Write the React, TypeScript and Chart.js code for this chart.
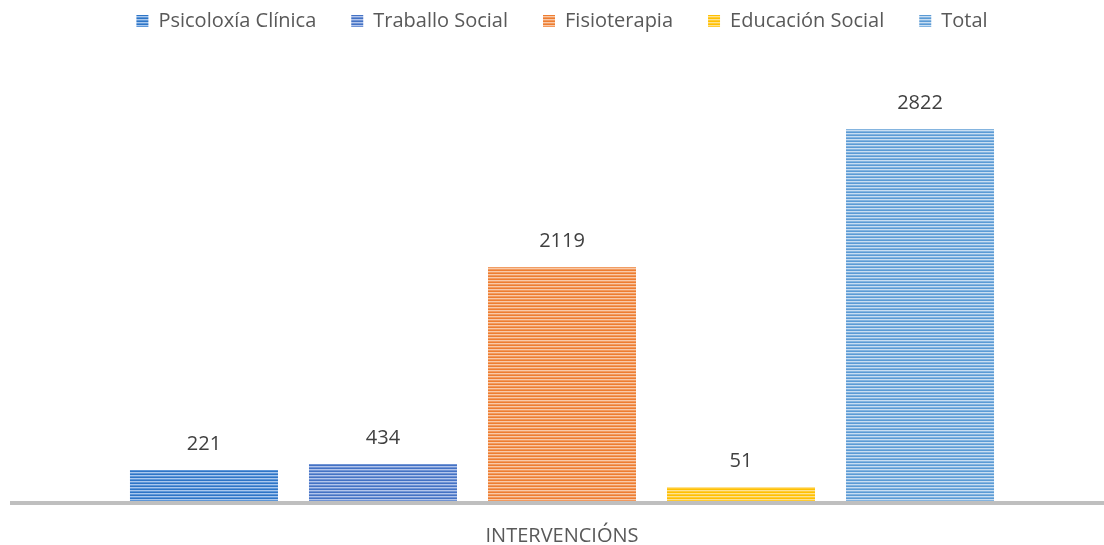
import React, { useEffect, useRef } from "react";
import { Chart, registerables } from "chart.js";

Chart.register(...registerables);

const categories = ["INTERVENCIÓNS"];
const seriesNames = ["Psicoloxía Clínica", "Traballo Social", "Fisioterapia", "Educación Social", "Total"];
// bar heights as drawn in the reference (chart units)
const barValues = [235, 281, 1775, 106, 2822];
// data labels as printed in the reference
const dataLabels = ["221", "434", "2119", "51", "2822"];
const darkColors = ["#2E75C6", "#4472C4", "#ED7D31", "#FFC000", "#5B9BD5"];
const midColors = ["#5E97D8", "#7194D4", "#F29A5E", "#FFCB33", "#84B4E0"];
const lightColors = ["#A9C8EE", "#B3C5EC", "#F9C9A8", "#FFE28F", "#C9DEF2"];

const FONT = "'Open Sans'";

function makePattern(dark: string, mid: string, light: string): CanvasPattern | string {
  const c = document.createElement("canvas");
  c.width = 4;
  c.height = 3;
  const g = c.getContext("2d");
  if (!g) return dark;
  g.fillStyle = dark;
  g.fillRect(0, 0, 4, 1);
  g.fillStyle = light;
  g.fillRect(0, 1, 4, 1);
  g.fillStyle = mid;
  g.fillRect(0, 2, 4, 1);
  const p = g.createPattern(c, "repeat");
  return p || dark;
}

const labelPlugin = {
  id: "barLabels",
  afterDatasetsDraw(chart: any) {
    const ctx = chart.ctx;
    ctx.save();
    ctx.font = `20px ${FONT}`;
    ctx.fillStyle = "#404040";
    ctx.textAlign = "center";
    ctx.textBaseline = "middle";
    chart.data.datasets.forEach((ds: any, i: number) => {
      const meta = chart.getDatasetMeta(i);
      meta.data.forEach((bar: any) => {
        ctx.fillText(dataLabels[i], bar.x, bar.y - 26);
      });
    });
    ctx.restore();
  },
};

const baselinePlugin = {
  id: "baseline",
  afterDatasetsDraw(chart: any) {
    const ctx = chart.ctx;
    const y = chart.scales.y.getPixelForValue(0);
    ctx.save();
    ctx.fillStyle = "#BFBFBF";
    ctx.fillRect(10, y, chart.width - 10, 4);
    ctx.restore();
  },
};

export default function App() {
  const ref = useRef<HTMLCanvasElement | null>(null);
  useEffect(() => {
    if (!ref.current) return;
    Chart.defaults.font.family = FONT;
    const chart = new Chart(ref.current, {
      type: "bar",
      data: {
        labels: categories,
        datasets: seriesNames.map((name, i) => ({
          label: name,
          data: [barValues[i]],
          backgroundColor: makePattern(darkColors[i], midColors[i], lightColors[i]) as any,
          borderWidth: 0,
          categoryPercentage: 0.8257,
          barPercentage: 0.8268,
        })),
      },
      options: {
        animation: false,
        responsive: true,
        maintainAspectRatio: false,
        layout: { padding: { left: 20, right: 0, top: -24, bottom: -26 } },
        plugins: {
          legend: {
            position: "top",
            labels: {
              boxWidth: 12,
              boxHeight: 12,
              padding: 35,
              color: "#595959",
              font: { size: 20, family: FONT },
            },
          },
          tooltip: { enabled: false },
        },
        scales: {
          x: {
            grid: { display: false, drawTicks: false },
            border: { display: false },
            ticks: { color: "#595959", font: { size: 20, family: FONT }, padding: 23 },
          },
          y: {
            display: false,
            min: 0,
            max: 3493,
          },
        },
      },
      plugins: [labelPlugin, baselinePlugin],
    });
    return () => chart.destroy();
  }, []);
  return (
    <div style={{ position: "absolute", left: 0, top: 0, width: 1104, height: 545, background: "#fff" }}>
      <canvas ref={ref} />
    </div>
  );
}
